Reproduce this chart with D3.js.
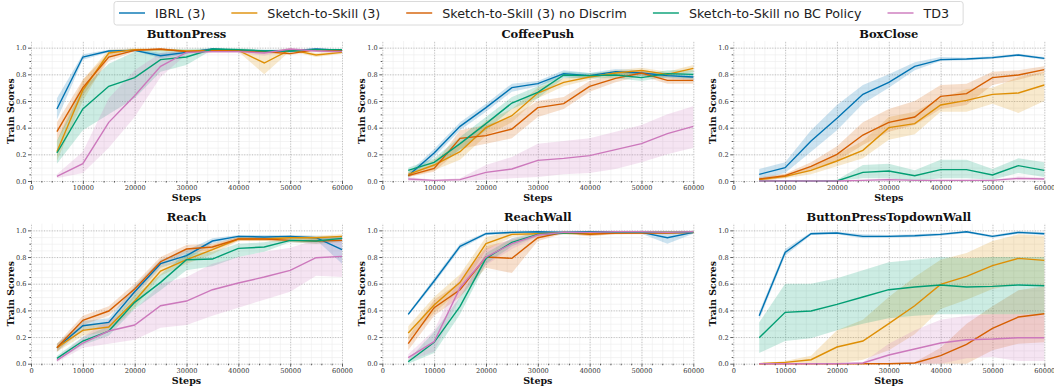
<!DOCTYPE html>
<html>
<head>
<meta charset="utf-8">
<script src="https://cdn.jsdelivr.net/npm/d3@7"></script>
<style>
  body { margin: 0; background: #fff; }
  svg { display: block; }
</style>
</head>
<body>
<div id="chart"></div>
<script>
const steps = [5000, 10000, 15000, 20000, 25000, 30000, 35000, 40000, 45000, 50000, 55000, 60000];
const seriesNames = ["IBRL (3)", "Sketch-to-Skill (3)", "Sketch-to-Skill (3) no Discrim", "Sketch-to-Skill no BC Policy", "TD3"];
const seriesColors = ["#0173b2", "#de8f05", "#d55e00", "#029e73", "#cc78bc"];
const panelTitles = ["ButtonPress", "CoffeePush", "BoxClose", "Reach", "ReachWall", "ButtonPressTopdownWall"];
const xTicks = [0, 10000, 20000, 30000, 40000, 50000, 60000];
const yTicks = [0, 0.2, 0.4, 0.6, 0.8, 1.0];

// rows follow seriesNames order
const buttonPressMean = [
    [0.54, 0.93, 0.975, 0.98, 0.94, 0.965, 0.99, 0.98, 0.975, 0.975, 0.99, 0.98],
    [0.22, 0.68, 0.96, 0.985, 0.985, 0.975, 0.98, 0.98, 0.885, 0.985, 0.945, 0.965],
    [0.37, 0.70, 0.93, 0.98, 0.99, 0.97, 0.975, 0.975, 0.97, 0.955, 0.985, 0.975],
    [0.21, 0.54, 0.71, 0.775, 0.91, 0.93, 0.99, 0.985, 0.975, 0.975, 0.985, 0.985],
    [0.035, 0.13, 0.44, 0.64, 0.86, 0.965, 0.97, 0.97, 0.96, 0.99, 0.975, 0.97]];
const buttonPressLow = [
    [0.46, 0.91, 0.965, 0.975, 0.92, 0.955, 0.985, 0.975, 0.97, 0.965, 0.985, 0.975],
    [0.15, 0.60, 0.93, 0.975, 0.975, 0.965, 0.97, 0.97, 0.80, 0.975, 0.93, 0.955],
    [0.30, 0.64, 0.90, 0.97, 0.985, 0.96, 0.965, 0.965, 0.96, 0.945, 0.975, 0.965],
    [0.13, 0.38, 0.50, 0.62, 0.82, 0.87, 0.985, 0.975, 0.965, 0.965, 0.98, 0.98],
    [0.02, 0.06, 0.25, 0.48, 0.78, 0.95, 0.96, 0.96, 0.94, 0.985, 0.965, 0.96]];
const buttonPressHigh = [
    [0.62, 0.95, 0.985, 0.99, 0.96, 0.975, 0.995, 0.99, 0.985, 0.985, 0.995, 0.99],
    [0.30, 0.76, 0.985, 0.995, 0.995, 0.985, 0.99, 0.99, 0.97, 0.995, 0.96, 0.975],
    [0.44, 0.76, 0.96, 0.99, 0.995, 0.98, 0.985, 0.985, 0.98, 0.965, 0.995, 0.985],
    [0.30, 0.70, 0.88, 0.97, 0.99, 0.99, 0.995, 0.995, 0.985, 0.985, 0.99, 0.99],
    [0.05, 0.22, 0.62, 0.83, 0.96, 0.98, 0.98, 0.98, 0.975, 0.995, 0.985, 0.98]];

const coffeePushMean = [
    [0.04, 0.21, 0.41, 0.55, 0.70, 0.73, 0.805, 0.79, 0.82, 0.81, 0.79, 0.78],
    [0.05, 0.12, 0.22, 0.40, 0.49, 0.66, 0.74, 0.78, 0.81, 0.83, 0.80, 0.845],
    [0.04, 0.095, 0.32, 0.34, 0.39, 0.55, 0.58, 0.71, 0.77, 0.81, 0.755, 0.755],
    [0.08, 0.14, 0.28, 0.43, 0.585, 0.665, 0.795, 0.79, 0.795, 0.775, 0.805, 0.80],
    [0.015, 0.005, 0.01, 0.065, 0.09, 0.155, 0.17, 0.19, 0.235, 0.28, 0.355, 0.41]];
const coffeePushLow = [
    [0.02, 0.18, 0.38, 0.52, 0.67, 0.71, 0.78, 0.77, 0.80, 0.79, 0.77, 0.76],
    [0.03, 0.08, 0.16, 0.34, 0.44, 0.62, 0.71, 0.76, 0.79, 0.81, 0.78, 0.82],
    [0.03, 0.07, 0.24, 0.28, 0.32, 0.48, 0.54, 0.67, 0.74, 0.79, 0.73, 0.73],
    [0.06, 0.11, 0.23, 0.38, 0.54, 0.62, 0.77, 0.77, 0.77, 0.75, 0.78, 0.77],
    [0.00, 0.00, 0.00, 0.01, 0.02, 0.03, 0.05, 0.06, 0.09, 0.14, 0.20, 0.25]];
const coffeePushHigh = [
    [0.06, 0.24, 0.44, 0.58, 0.73, 0.75, 0.83, 0.81, 0.84, 0.83, 0.81, 0.80],
    [0.07, 0.16, 0.28, 0.45, 0.54, 0.70, 0.77, 0.80, 0.83, 0.85, 0.82, 0.87],
    [0.05, 0.12, 0.38, 0.42, 0.48, 0.60, 0.63, 0.75, 0.80, 0.83, 0.78, 0.78],
    [0.10, 0.17, 0.33, 0.48, 0.63, 0.71, 0.82, 0.81, 0.82, 0.80, 0.83, 0.83],
    [0.03, 0.01, 0.02, 0.12, 0.18, 0.28, 0.30, 0.32, 0.37, 0.42, 0.50, 0.56]];

const boxCloseMean = [
    [0.05, 0.10, 0.30, 0.47, 0.65, 0.74, 0.86, 0.91, 0.915, 0.925, 0.945, 0.92],
    [0.01, 0.035, 0.08, 0.15, 0.23, 0.40, 0.43, 0.57, 0.605, 0.65, 0.66, 0.72],
    [0.015, 0.04, 0.11, 0.20, 0.345, 0.44, 0.48, 0.635, 0.655, 0.775, 0.795, 0.835],
    [0, 0, 0, 0, 0.065, 0.075, 0.04, 0.085, 0.085, 0.045, 0.115, 0.08],
    [0, 0, 0, 0, 0.005, 0.01, 0.005, 0.005, 0.005, 0.005, 0.02, 0.015]];
const boxCloseLow = [
    [0.01, 0.06, 0.22, 0.38, 0.58, 0.70, 0.83, 0.90, 0.905, 0.915, 0.935, 0.91],
    [0.0, 0.02, 0.05, 0.11, 0.17, 0.31, 0.35, 0.52, 0.52, 0.58, 0.51, 0.60],
    [0.0, 0.025, 0.08, 0.15, 0.27, 0.37, 0.42, 0.54, 0.57, 0.72, 0.76, 0.81],
    [0, 0, 0, 0, 0.02, 0.02, 0.0, 0.02, 0.02, 0.01, 0.06, 0.03],
    [0, 0, 0, 0, 0, 0, 0, 0, 0, 0, 0.005, 0.005]];
const boxCloseHigh = [
    [0.09, 0.14, 0.38, 0.57, 0.72, 0.80, 0.89, 0.93, 0.925, 0.935, 0.955, 0.93],
    [0.02, 0.05, 0.11, 0.20, 0.30, 0.48, 0.52, 0.62, 0.69, 0.70, 0.78, 0.82],
    [0.03, 0.055, 0.14, 0.26, 0.44, 0.54, 0.60, 0.72, 0.73, 0.82, 0.83, 0.86],
    [0, 0, 0, 0.01, 0.12, 0.13, 0.08, 0.16, 0.16, 0.09, 0.17, 0.14],
    [0, 0, 0, 0, 0.01, 0.02, 0.01, 0.01, 0.01, 0.01, 0.035, 0.025]];

const reachMean = [
    [0.12, 0.285, 0.31, 0.54, 0.75, 0.81, 0.92, 0.955, 0.95, 0.955, 0.945, 0.855],
    [0.12, 0.25, 0.275, 0.47, 0.695, 0.78, 0.855, 0.935, 0.935, 0.945, 0.945, 0.955],
    [0.12, 0.325, 0.395, 0.56, 0.765, 0.86, 0.875, 0.935, 0.935, 0.925, 0.92, 0.925],
    [0.04, 0.17, 0.245, 0.46, 0.61, 0.78, 0.785, 0.865, 0.875, 0.925, 0.92, 0.94],
    [0.025, 0.155, 0.245, 0.29, 0.435, 0.47, 0.555, 0.605, 0.65, 0.70, 0.795, 0.805]];
const reachLow = [
    [0.09, 0.25, 0.28, 0.50, 0.72, 0.78, 0.90, 0.94, 0.935, 0.94, 0.93, 0.75],
    [0.09, 0.21, 0.24, 0.42, 0.66, 0.75, 0.82, 0.92, 0.92, 0.93, 0.93, 0.94],
    [0.09, 0.29, 0.36, 0.52, 0.73, 0.83, 0.85, 0.92, 0.92, 0.91, 0.90, 0.91],
    [0.02, 0.14, 0.21, 0.41, 0.55, 0.70, 0.73, 0.80, 0.84, 0.91, 0.90, 0.92],
    [0.01, 0.12, 0.15, 0.18, 0.27, 0.29, 0.36, 0.42, 0.48, 0.54, 0.66, 0.65]];
const reachHigh = [
    [0.15, 0.32, 0.34, 0.58, 0.78, 0.85, 0.94, 0.965, 0.965, 0.965, 0.96, 0.95],
    [0.15, 0.29, 0.31, 0.52, 0.73, 0.81, 0.89, 0.95, 0.95, 0.96, 0.96, 0.97],
    [0.15, 0.36, 0.43, 0.60, 0.80, 0.89, 0.90, 0.95, 0.95, 0.94, 0.94, 0.94],
    [0.06, 0.20, 0.28, 0.51, 0.67, 0.83, 0.84, 0.90, 0.91, 0.94, 0.94, 0.96],
    [0.04, 0.20, 0.33, 0.40, 0.60, 0.65, 0.75, 0.80, 0.84, 0.87, 0.93, 0.96]];

const reachWallMean = [
    [0.37, 0.62, 0.88, 0.975, 0.985, 0.99, 0.985, 0.99, 0.99, 0.985, 0.945, 0.985],
    [0.23, 0.44, 0.61, 0.90, 0.97, 0.975, 0.98, 0.975, 0.98, 0.985, 0.985, 0.985],
    [0.15, 0.42, 0.555, 0.80, 0.79, 0.945, 0.985, 0.97, 0.98, 0.98, 0.98, 0.985],
    [0.015, 0.16, 0.43, 0.79, 0.91, 0.97, 0.98, 0.985, 0.985, 0.985, 0.985, 0.985],
    [0.045, 0.165, 0.57, 0.80, 0.90, 0.965, 0.985, 0.985, 0.99, 0.99, 0.985, 0.99]];
const reachWallLow = [
    [0.36, 0.60, 0.86, 0.965, 0.975, 0.98, 0.975, 0.98, 0.98, 0.975, 0.90, 0.975],
    [0.18, 0.38, 0.55, 0.85, 0.95, 0.965, 0.97, 0.96, 0.97, 0.975, 0.975, 0.975],
    [0.10, 0.36, 0.50, 0.72, 0.68, 0.92, 0.975, 0.955, 0.97, 0.97, 0.97, 0.975],
    [0.0, 0.08, 0.37, 0.75, 0.88, 0.955, 0.97, 0.975, 0.975, 0.975, 0.975, 0.975],
    [0.02, 0.09, 0.50, 0.74, 0.86, 0.95, 0.975, 0.975, 0.98, 0.98, 0.975, 0.98]];
const reachWallHigh = [
    [0.38, 0.64, 0.90, 0.985, 0.995, 0.995, 0.995, 0.995, 0.995, 0.995, 0.99, 0.995],
    [0.28, 0.50, 0.67, 0.95, 0.99, 0.985, 0.99, 0.99, 0.99, 0.995, 0.995, 0.995],
    [0.20, 0.48, 0.61, 0.88, 0.93, 0.97, 0.995, 0.985, 0.99, 0.99, 0.99, 0.995],
    [0.03, 0.24, 0.50, 0.83, 0.94, 0.985, 0.99, 0.995, 0.995, 0.995, 0.995, 0.995],
    [0.07, 0.25, 0.66, 0.86, 0.94, 0.98, 0.995, 0.995, 0.998, 0.998, 0.995, 0.998]];

const topdownWallMean = [
    [0.36, 0.835, 0.975, 0.98, 0.955, 0.955, 0.96, 0.97, 0.99, 0.955, 0.985, 0.975],
    [0, 0.01, 0.03, 0.125, 0.17, 0.30, 0.435, 0.595, 0.655, 0.735, 0.79, 0.775],
    [0, 0, 0, 0, 0, 0, 0.005, 0.06, 0.145, 0.265, 0.35, 0.375],
    [0.195, 0.385, 0.395, 0.445, 0.50, 0.555, 0.575, 0.59, 0.575, 0.58, 0.59, 0.585],
    [0, 0, 0, 0, 0.005, 0.065, 0.11, 0.155, 0.18, 0.185, 0.195, 0.195]];
const topdownWallLow = [
    [0.33, 0.81, 0.965, 0.97, 0.94, 0.945, 0.95, 0.96, 0.98, 0.945, 0.975, 0.965],
    [0, 0, 0, 0, 0.03, 0.10, 0.22, 0.41, 0.48, 0.56, 0.60, 0.59],
    [0, 0, 0, 0, 0, 0, 0, 0, 0, 0.10, 0.15, 0.16],
    [0.08, 0.17, 0.19, 0.25, 0.30, 0.34, 0.36, 0.37, 0.37, 0.37, 0.37, 0.37],
    [0, 0, 0, 0, 0, 0, 0, 0, 0.04, 0.05, 0.02, 0.02]];
const topdownWallHigh = [
    [0.39, 0.86, 0.985, 0.99, 0.97, 0.965, 0.97, 0.98, 0.995, 0.965, 0.995, 0.985],
    [0, 0.02, 0.06, 0.25, 0.33, 0.50, 0.65, 0.78, 0.83, 0.92, 0.97, 0.96],
    [0, 0, 0, 0, 0, 0, 0.01, 0.12, 0.30, 0.43, 0.55, 0.58],
    [0.31, 0.60, 0.60, 0.64, 0.70, 0.76, 0.78, 0.80, 0.79, 0.80, 0.80, 0.80],
    [0, 0, 0, 0, 0.01, 0.15, 0.25, 0.33, 0.36, 0.37, 0.37, 0.37]];

const panelMeans = [buttonPressMean, coffeePushMean, boxCloseMean, reachMean, reachWallMean, topdownWallMean];
const panelLows = [buttonPressLow, coffeePushLow, boxCloseLow, reachLow, reachWallLow, topdownWallLow];
const panelHighs = [buttonPressHigh, coffeePushHigh, boxCloseHigh, reachHigh, reachWallHigh, topdownWallHigh];

const W = 1054, H = 387;
const plotW = 311, plotH = 140;
const colX = [31, 382.3, 733.3];
const rowY = [41, 223.7];
const serif = "'DejaVu Serif', serif";

const svg = d3.select("#chart").append("svg").attr("width", W).attr("height", H);

function drawPanel(i) {
    const g = svg.append("g").attr("transform", `translate(${colX[i % 3]},${rowY[Math.floor(i / 3)]})`);
    const x = d3.scaleLinear().domain([0, 60000]).range([0, plotW]);
    const y = d3.scaleLinear().domain([0, 1.05]).range([plotH, 0]);

    // minor grid
    g.append("g").attr("transform", `translate(0,${plotH})`)
        .call(d3.axisBottom(x).tickValues(d3.range(0, 60001, 2000)).tickSize(-plotH).tickFormat(""))
        .call(a => a.select(".domain").remove())
        .selectAll("line").attr("stroke", "#ececec").attr("stroke-width", 0.6);
    g.append("g")
        .call(d3.axisLeft(y).tickValues(d3.range(0, 1.01, 0.05)).tickSize(-plotW).tickFormat(""))
        .call(a => a.select(".domain").remove())
        .selectAll("line").attr("stroke", "#ececec").attr("stroke-width", 0.6);

    // major grid, dotted
    g.append("g").attr("transform", `translate(0,${plotH})`)
        .call(d3.axisBottom(x).tickValues(xTicks).tickSize(-plotH).tickFormat(""))
        .call(a => a.select(".domain").remove())
        .selectAll("line").attr("stroke", "#b0b0b0").attr("stroke-width", 0.8).attr("stroke-dasharray", "1,1.6");
    g.append("g")
        .call(d3.axisLeft(y).tickValues(yTicks).tickSize(-plotW).tickFormat(""))
        .call(a => a.select(".domain").remove())
        .selectAll("line").attr("stroke", "#b0b0b0").attr("stroke-width", 0.8).attr("stroke-dasharray", "1,1.6");

    const means = panelMeans[i], lows = panelLows[i], highs = panelHighs[i];
    const area = d3.area().x((d, k) => x(steps[k])).y0(d => y(d[0])).y1(d => y(d[1]));
    const line = d3.line().x((d, k) => x(steps[k])).y(d => y(d));

    seriesNames.forEach((name, s) => {
        const band = lows[s].map((lo, k) => [lo, highs[s][k]]);
        g.append("path").datum(band).attr("d", area)
            .attr("fill", seriesColors[s]).attr("fill-opacity", 0.2).attr("stroke", "none");
    });
    seriesNames.forEach((name, s) => {
        g.append("path").datum(means[s]).attr("d", line)
            .attr("fill", "none").attr("stroke", seriesColors[s]).attr("stroke-width", 1.4);
    });

    // ticks and labels
    const xa = g.append("g").attr("transform", `translate(0,${plotH})`)
        .call(d3.axisBottom(x).tickValues(xTicks).tickSize(3).tickPadding(1.5).tickFormat(d3.format("d")));
    xa.select(".domain").remove();
    xa.selectAll("line").attr("stroke", "#333").attr("stroke-width", 0.8);
    xa.selectAll("text").attr("font-family", serif).attr("font-size", 6.6).attr("fill", "#333");

    const xm = g.append("g").attr("transform", `translate(0,${plotH})`)
        .call(d3.axisBottom(x).tickValues(d3.range(2000, 60000, 2000).filter(v => v % 10000)).tickSize(1.6).tickFormat(""));
    xm.select(".domain").remove();
    xm.selectAll("line").attr("stroke", "#333").attr("stroke-width", 0.8);

    const ya = g.append("g")
        .call(d3.axisLeft(y).tickValues(yTicks).tickSize(3).tickPadding(1.5).tickFormat(d3.format(".1f")));
    ya.select(".domain").remove();
    ya.selectAll("line").attr("stroke", "#333").attr("stroke-width", 0.8);
    ya.selectAll("text").attr("font-family", serif).attr("font-size", 6.6).attr("fill", "#333");

    const ym = g.append("g")
        .call(d3.axisLeft(y).tickValues(d3.range(0.05, 1.01, 0.05).filter(v => Math.abs(v * 5 - Math.round(v * 5)) > 1e-6)).tickSize(1.6).tickFormat(""));
    ym.select(".domain").remove();
    ym.selectAll("line").attr("stroke", "#333").attr("stroke-width", 0.8);

    g.append("text").attr("x", plotW / 2).attr("y", -2.7).attr("text-anchor", "middle")
        .attr("font-family", serif).attr("font-weight", "bold").attr("font-size", 11.5).attr("fill", "#111")
        .text(panelTitles[i]);
    g.append("text").attr("x", plotW / 2).attr("y", plotH + 20).attr("text-anchor", "middle")
        .attr("font-family", serif).attr("font-weight", "bold").attr("font-size", 9.5).attr("fill", "#111")
        .text("Steps");
    g.append("text").attr("transform", `translate(-17,${plotH / 2}) rotate(-90)`).attr("text-anchor", "middle")
        .attr("font-family", serif).attr("font-weight", "bold").attr("font-size", 9.3).attr("fill", "#111")
        .text("Train Scores");
}

function drawLegend() {
    const lg = svg.append("g");
    const box = lg.append("rect").attr("y", 1.5).attr("height", 23.5).attr("rx", 2.5)
        .attr("fill", "#fff").attr("fill-opacity", 0.8).attr("stroke", "#d6d6d6").attr("stroke-width", 0.9);
    let cx = 119;
    seriesNames.forEach((name, s) => {
        lg.append("line").attr("x1", cx).attr("x2", cx + 26).attr("y1", 13).attr("y2", 13)
            .attr("stroke", seriesColors[s]).attr("stroke-width", 1.4);
        const t = lg.append("text").attr("x", cx + 36).attr("y", 17.5)
            .attr("font-family", "'DejaVu Sans', sans-serif").attr("font-size", 12.7).attr("fill", "#222")
            .text(name);
        cx += 36 + t.node().getComputedTextLength() + 26;
    });
    box.attr("x", 114).attr("width", cx - 26 + 14 - 114);
}

panelTitles.forEach((t, i) => drawPanel(i));
drawLegend();
</script>
</body>
</html>
